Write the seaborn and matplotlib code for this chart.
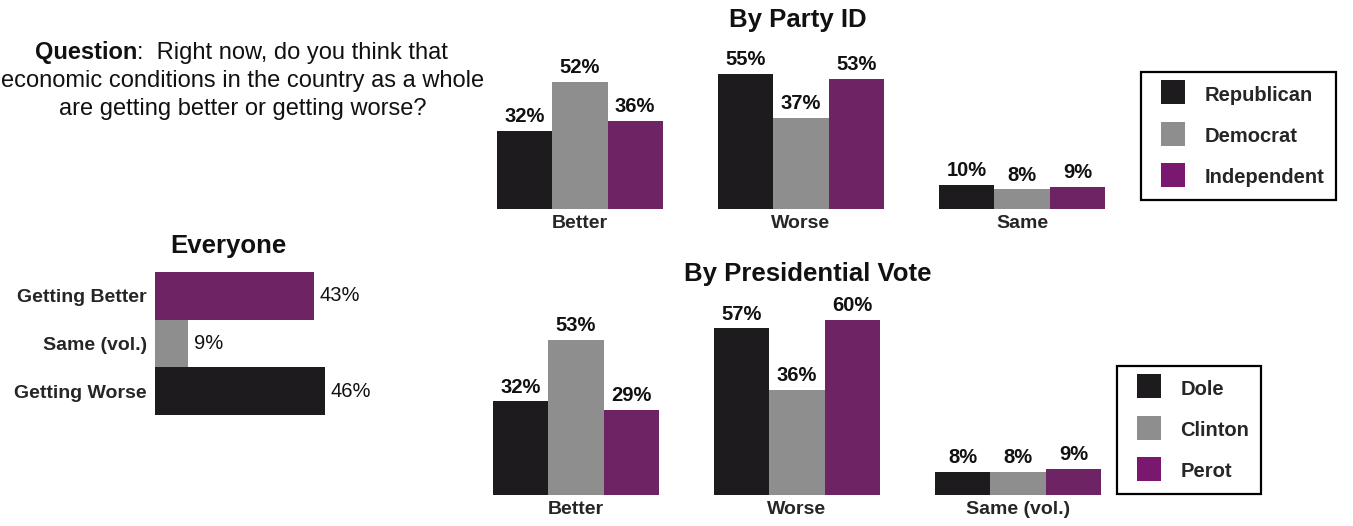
import pandas as pd
import seaborn as sns
import matplotlib.pyplot as plt
from matplotlib.lines import Line2D

# data
everyone_labels = ["Getting Better", "Same (vol.)", "Getting Worse"]
everyone_values = [43, 9, 46]

party_responses = ["Better", "Worse", "Same"]
party_groups = ["Republican", "Democrat", "Independent"]
party_values = {
    "Republican": [32, 55, 10],
    "Democrat": [52, 37, 8],
    "Independent": [36, 53, 9],
}

vote_responses = ["Better", "Worse", "Same (vol.)"]
vote_groups = ["Dole", "Clinton", "Perot"]
vote_values = {
    "Dole": [32, 57, 8],
    "Clinton": [53, 36, 8],
    "Perot": [29, 60, 9],
}

BLACK = "#1d1b1d"
GRAY = "#8e8e8e"
PURPLE = "#7a176f"
COLORS = [BLACK, GRAY, PURPLE]

W, H = 1353, 526

sns.set_style("white")
plt.rcParams["font.family"] = ["Liberation Sans", "DejaVu Sans"]


def px_axes(fig, left, top, right, bottom):
    """add axes using pixel coordinates measured from the top-left corner"""
    return fig.add_axes([left / W, 1 - bottom / H, (right - left) / W, (bottom - top) / H])


def long_frame(responses, groups, values):
    rows = []
    for g in groups:
        for r, v in zip(responses, values[g]):
            rows.append({"response": r, "group": g, "pct": v})
    return pd.DataFrame(rows)


def grouped_bars(ax, responses, groups, values, ymax):
    df = long_frame(responses, groups, values)
    sns.barplot(
        data=df, x="response", y="pct", hue="group",
        order=responses, hue_order=groups,
        palette=dict(zip(groups, COLORS)),
        width=0.75, gap=0, linewidth=0, legend=False, ax=ax,
    )
    for c in ax.containers:
        ax.bar_label(
            c, labels=[f"{v:.0f}%" for v in c.datavalues],
            padding=3.5, fontsize=14.5, fontweight="bold", color="#111111",
        )
    ax.set_xlim(-0.375, 2.375)
    ax.set_ylim(0, ymax)
    ax.set_xlabel("")
    ax.set_ylabel("")
    ax.set_yticks([])
    ax.tick_params(axis="x", length=0, pad=4.5, labelsize=14)
    for t in ax.get_xticklabels():
        t.set_fontweight("bold")
    sns.despine(ax=ax, left=True, bottom=True)
    ax.patch.set_alpha(0)


def box_legend(fig, groups, left, top):
    handles = [
        Line2D([], [], linestyle="none", marker="s", markersize=16.6,
               markerfacecolor=c, markeredgewidth=0)
        for c in COLORS
    ]
    leg = fig.legend(
        handles, groups, loc="upper left",
        bbox_to_anchor=(left / W, 1 - top / H),
        prop={"weight": "bold", "size": 14.5},
        frameon=True, fancybox=False, framealpha=1,
        handlelength=2.0, handleheight=1.14, handletextpad=0.55,
        labelspacing=1.02, borderpad=0.6, borderaxespad=0,
    )
    leg.get_frame().set_edgecolor("black")
    leg.get_frame().set_linewidth(1.6)
    return leg


fig = plt.figure(figsize=(W / 100, H / 100), dpi=100)

# question text
fig.text(137 / W, 1 - 53 / H, "Question", ha="right", va="center",
         fontsize=17, fontweight="bold", color="#111111")
fig.text(137 / W, 1 - 53 / H, ":  Right now, do you think that", ha="left", va="center",
         fontsize=17, color="#111111")
fig.text(243 / W, 1 - 81 / H, "economic conditions in the country as a whole",
         ha="center", va="center", fontsize=17, color="#111111")
fig.text(243 / W, 1 - 109 / H, "are getting better or getting worse?",
         ha="center", va="center", fontsize=17, color="#111111")

# everyone
ax_all = px_axes(fig, 155, 272, 377, 415)
sns.barplot(
    x=everyone_values, y=everyone_labels, hue=everyone_labels,
    palette=[PURPLE, GRAY, BLACK], orient="h", width=1.0,
    linewidth=0, legend=False, ax=ax_all,
)
for c in ax_all.containers:
    ax_all.bar_label(c, labels=[f"{v:.0f}%" for v in c.datavalues],
                     padding=4, fontsize=14.5, color="#111111")
ax_all.set_xlim(0, 60)
ax_all.set_ylim(2.5, -0.5)
ax_all.set_xticks([])
ax_all.tick_params(axis="y", length=0, pad=6, labelsize=14)
for t in ax_all.get_yticklabels():
    t.set_fontweight("bold")
sns.despine(ax=ax_all, left=True, bottom=True)
ax_all.patch.set_alpha(0)
fig.text(228 / W, 1 - 246 / H, "Everyone", ha="center", va="center",
         fontsize=18.5, fontweight="bold", color="#111111")

# by party id
ax_party = px_axes(fig, 497, 62, 1105, 209)
grouped_bars(ax_party, party_responses, party_groups, party_values, 60)
fig.text(798 / W, 1 - 20 / H, "By Party ID", ha="center", va="center",
         fontsize=18.5, fontweight="bold", color="#111111")
box_legend(fig, party_groups, 1141, 72)

# by presidential vote
ax_vote = px_axes(fig, 493, 305, 1101, 495)
grouped_bars(ax_vote, vote_responses, vote_groups, vote_values, 65)
fig.text(808 / W, 1 - 274 / H, "By Presidential Vote", ha="center", va="center",
         fontsize=18.5, fontweight="bold", color="#111111")
box_legend(fig, vote_groups, 1117, 366)

fig.savefig("out.png", dpi=100)
plt.close(fig)
